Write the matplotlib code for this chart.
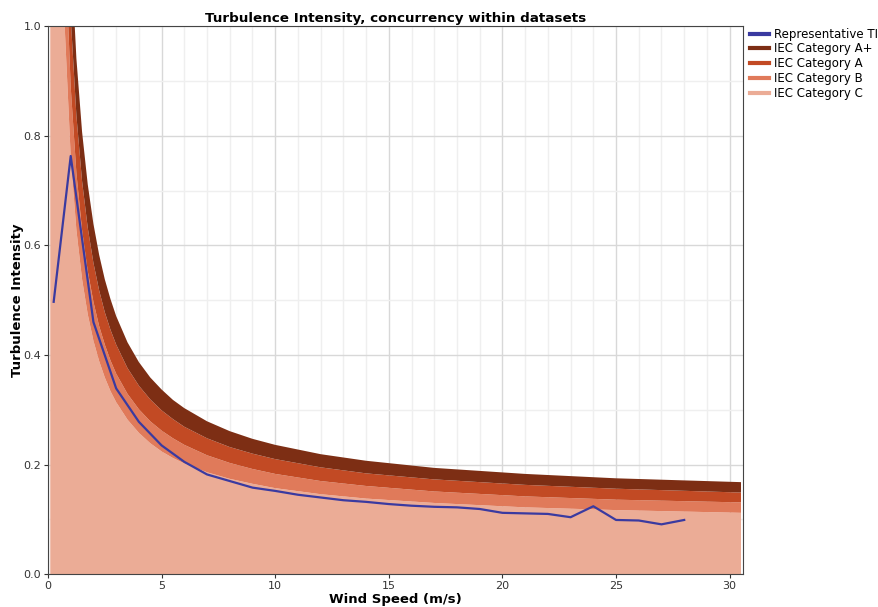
import matplotlib
matplotlib.use("Agg")
import matplotlib.pyplot as plt
from matplotlib.ticker import MultipleLocator, FormatStrFormatter

# IEC category envelopes
iec_speed = [0.1, 0.5, 0.75, 1.0, 1.25, 1.5, 1.75, 2.0, 2.25, 2.5, 2.75, 3.0, 3.5, 4.0,
             4.5, 5.0, 5.5, 6.0, 7.0, 8.0, 9.0, 10.0, 12.0, 14.0, 17.0, 21.0, 25.0, 30.5]
cat_a_plus = [10.2, 2.151, 1.479, 1.143, 0.941, 0.807, 0.711, 0.639, 0.583, 0.538, 0.502,
              0.471, 0.423, 0.387, 0.359, 0.337, 0.318, 0.303, 0.279, 0.261, 0.247,
              0.236, 0.219, 0.207, 0.194, 0.183, 0.175, 0.168]
cat_a = [9.08, 1.912, 1.315, 1.016, 0.837, 0.717, 0.632, 0.568, 0.518, 0.478, 0.446,
         0.419, 0.376, 0.344, 0.319, 0.299, 0.283, 0.269, 0.248, 0.232, 0.220,
         0.210, 0.195, 0.184, 0.173, 0.163, 0.156, 0.149]
cat_b = [7.95, 1.673, 1.150, 0.889, 0.732, 0.628, 0.553, 0.497, 0.453, 0.419, 0.390,
         0.366, 0.329, 0.301, 0.279, 0.262, 0.248, 0.236, 0.217, 0.203, 0.192,
         0.183, 0.170, 0.161, 0.151, 0.142, 0.136, 0.131]
cat_c = [6.81, 1.434, 0.986, 0.762, 0.628, 0.538, 0.474, 0.426, 0.389, 0.359, 0.334,
         0.314, 0.282, 0.258, 0.239, 0.224, 0.212, 0.202, 0.186, 0.174, 0.165,
         0.157, 0.146, 0.138, 0.130, 0.122, 0.117, 0.112]

# representative TI
rep_speed = [0.25, 1, 2, 3, 4, 5, 6, 7, 8, 9, 10, 11, 12, 13, 14, 15, 16, 17, 18,
             19, 20, 21, 22, 23, 24, 25, 26, 27, 28]
rep_ti = [0.497, 0.763, 0.460, 0.339, 0.278, 0.235, 0.205, 0.182, 0.170, 0.158, 0.152,
          0.145, 0.140, 0.135, 0.132, 0.128, 0.125, 0.123, 0.122, 0.119, 0.112, 0.111,
          0.110, 0.104, 0.124, 0.099, 0.098, 0.091, 0.099]

col_rep = "#3a3aa0"
col_ap = "#7d2e14"
col_a = "#c24a24"
col_b = "#e07a5a"
col_c = "#ebac96"

fig = plt.figure(figsize=(8.79, 6.07), dpi=100)
ax = fig.add_axes([0.0546, 0.054, 0.791, 0.903])

ax.fill_between(iec_speed, 0, cat_c, color=col_c, lw=0, zorder=2)
ax.fill_between(iec_speed, cat_c, cat_b, color=col_b, lw=0, zorder=2)
ax.fill_between(iec_speed, cat_b, cat_a, color=col_a, lw=0, zorder=2)
ax.fill_between(iec_speed, cat_a, cat_a_plus, color=col_ap, lw=0, zorder=2)
ax.plot(rep_speed, rep_ti, color=col_rep, lw=1.6, zorder=3)

# legend handles
ax.plot([], [], color=col_rep, lw=3, label="Representative TI")
ax.plot([], [], color=col_ap, lw=3, label="IEC Category A+")
ax.plot([], [], color=col_a, lw=3, label="IEC Category A")
ax.plot([], [], color=col_b, lw=3, label="IEC Category B")
ax.plot([], [], color=col_c, lw=3, label="IEC Category C")
ax.legend(loc="upper left", bbox_to_anchor=(1.0, 1.01),
          frameon=False, fontsize=8.5, handlelength=1.6, handletextpad=0.4,
          labelspacing=0.15, borderaxespad=0.2)

ax.set_xlim(0, 30.6)
ax.set_ylim(0, 1.0)
ax.xaxis.set_major_locator(MultipleLocator(5))
ax.xaxis.set_minor_locator(MultipleLocator(1))
ax.yaxis.set_major_locator(MultipleLocator(0.2))
ax.yaxis.set_minor_locator(MultipleLocator(0.1))
ax.yaxis.set_major_formatter(FormatStrFormatter("%.1f"))
ax.grid(which="major", color="#d8d8d8", lw=1.0, zorder=0)
ax.grid(which="minor", color="#efefef", lw=1.0, zorder=0)
ax.set_axisbelow(True)
ax.tick_params(which="major", length=3, labelsize=8, colors="#333333", pad=2)
ax.tick_params(which="minor", length=0)
for s in ax.spines.values():
    s.set_color("#444444")

ax.set_title("Turbulence Intensity, concurrency within datasets", fontsize=9.7,
             fontweight="bold", pad=3)
ax.set_xlabel("Wind Speed (m/s)", fontsize=9.5, fontweight="bold", labelpad=1)
ax.set_ylabel("Turbulence Intensity", fontsize=9.5, fontweight="bold", labelpad=2)
ax.yaxis.set_label_coords(-0.034, 0.5)

fig.savefig("out.png", dpi=100)
